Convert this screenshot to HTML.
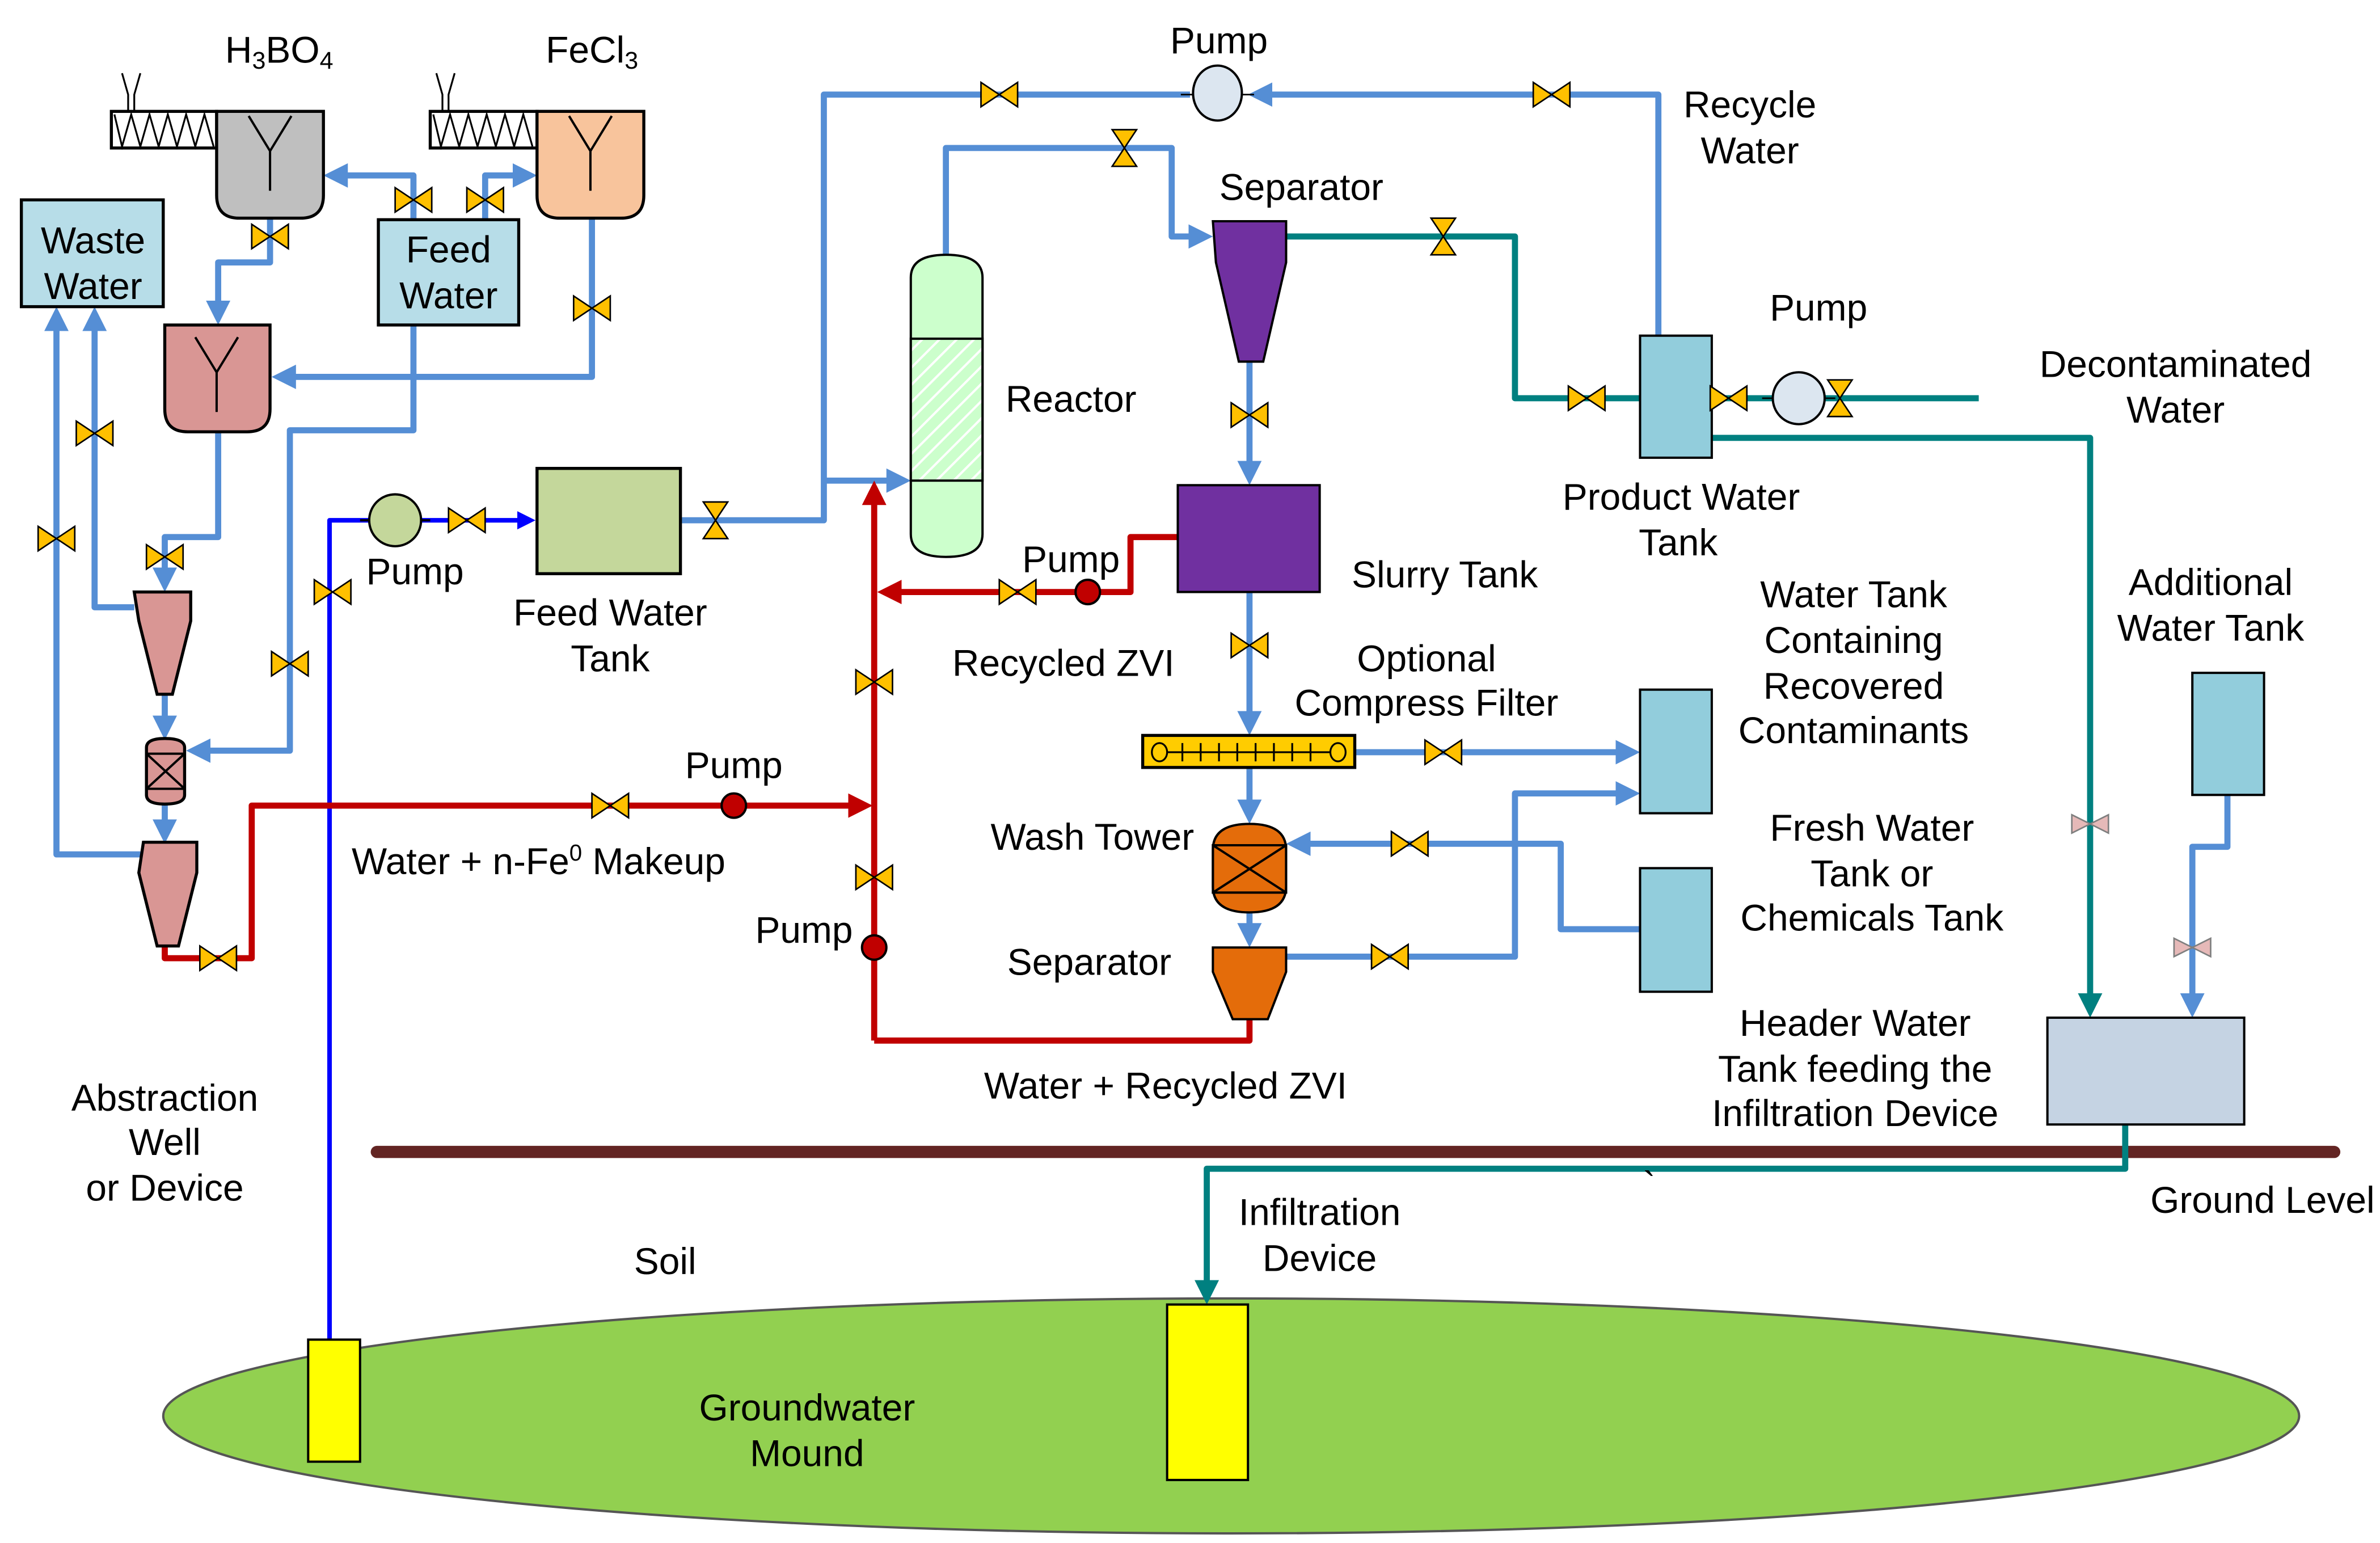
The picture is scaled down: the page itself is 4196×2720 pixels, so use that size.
<!DOCTYPE html>
<html><head><meta charset="utf-8"><style>
html,body{margin:0;padding:0;background:#fff;}
svg{display:block;}
text{font-family:"Liberation Sans",sans-serif;font-size:24.5px;fill:#000;text-anchor:middle;}
</style></head><body>
<svg width="4196" height="2720" viewBox="0 0 1560 1011.3" preserveAspectRatio="none" xmlns="http://www.w3.org/2000/svg">
<defs>
<marker id="ab" markerWidth="4" markerHeight="4" refX="3" refY="2" orient="auto" markerUnits="strokeWidth"><path d="M0,0 L4,2 L0,4 Z" fill="#558ed5"/></marker>
<marker id="ar" markerWidth="4" markerHeight="4" refX="3" refY="2" orient="auto" markerUnits="strokeWidth"><path d="M0,0 L4,2 L0,4 Z" fill="#c00000"/></marker>
<marker id="at" markerWidth="4" markerHeight="4" refX="3" refY="2" orient="auto" markerUnits="strokeWidth"><path d="M0,0 L4,2 L0,4 Z" fill="#008080"/></marker>
<marker id="ap" markerWidth="4" markerHeight="4" refX="3" refY="2" orient="auto" markerUnits="strokeWidth"><path d="M0,0 L4,2 L0,4 Z" fill="#0000ff"/></marker>
<g id="v"><path d="M-12,-8 L12,8 L12,-8 L-12,8 Z" fill="#ffc000" stroke="#000" stroke-width="1"/></g>
<g id="vv"><path d="M-8,-12 L8,12 L-8,12 L8,-12 Z" fill="#ffc000" stroke="#000" stroke-width="1"/></g>
<g id="pv"><path d="M-12,-6 L12,6 L12,-6 L-12,6 Z" fill="#e6b9b8" stroke="#7f7f7f" stroke-width="1"/></g>
<pattern id="hatch" width="8" height="8" patternUnits="userSpaceOnUse" patternTransform="rotate(45)"><rect width="8" height="8" fill="#ccffcc"/><line x1="0" y1="0" x2="0" y2="8" stroke="#fff" stroke-width="3"/></pattern>
</defs>

<ellipse cx="807" cy="928" rx="700" ry="77" fill="#92d050" stroke="#555" stroke-width="1.5"/>
<line x1="247" y1="755" x2="1530" y2="755" stroke="#632523" stroke-width="8" stroke-linecap="round"/>

<g fill="none" stroke-width="4" stroke-linejoin="round">
<g stroke="#558ed5">
<polyline points="271,144 271,115 216,115" marker-end="url(#ab)"/>
<polyline points="318,144 318,115 348,115" marker-end="url(#ab)"/>
<polyline points="177,143 177,172 143,172 143,209" marker-end="url(#ab)"/>
<polyline points="388,143 388,247 182,247" marker-end="url(#ab)"/>
<polyline points="271,213 271,282 190,282 190,492 126,492" marker-end="url(#ab)"/>
<polyline points="143,283 143,352 108,352 108,384" marker-end="url(#ab)"/>
<polyline points="88,398 62,398 62,205" marker-end="url(#ab)"/>
<polyline points="108,455 108,481" marker-end="url(#ab)"/>
<polyline points="108,527 108,549" marker-end="url(#ab)"/>
<polyline points="92,560 37,560 37,205" marker-end="url(#ab)"/>
<polyline points="446,341 540,341 540,62 780,62"/>
<polyline points="540,315 593,315" marker-end="url(#ab)"/>
<polyline points="1087,220 1087,62 822,62" marker-end="url(#ab)"/>
<polyline points="620,167 620,97 768,97 768,155 791,155" marker-end="url(#ab)"/>
<polyline points="819,237 819,314" marker-end="url(#ab)"/>
<polyline points="819,388 819,478" marker-end="url(#ab)"/>
<polyline points="888,493 1071,493" marker-end="url(#ab)"/>
<polyline points="819,503 819,536" marker-end="url(#ab)"/>
<polyline points="819,598 819,617" marker-end="url(#ab)"/>
<polyline points="843,627 993,627 993,520 1071,520" marker-end="url(#ab)"/>
<polyline points="1075,609 1023,609 1023,553 847,553" marker-end="url(#ab)"/>
<polyline points="1460,521 1460,555 1437,555 1437,663" marker-end="url(#ab)"/>
</g>
<polyline points="216,878 216,341 348,341" stroke="#0000ff" stroke-width="3" marker-end="url(#ap)"/>
<g stroke="#c00000">
<polyline points="108,620 108,628 165,628 165,528 568,528" marker-end="url(#ar)"/>
<polyline points="573,682 573,319" marker-end="url(#ar)"/>
<polyline points="772,352 741,352 741,388 579,388" marker-end="url(#ar)"/>
<polyline points="573,682 819,682 819,668"/>
</g>
<g stroke="#008080">
<polyline points="843,155 993,155 993,261 1075,261"/>
<polyline points="1297,261 1122,261"/>
<polyline points="1122,287 1370,287 1370,663" marker-end="url(#at)"/>
<polyline points="1393,737 1393,766 791,766 791,851" marker-end="url(#at)"/>
</g>
</g>

<g stroke="#000" stroke-width="2">
<rect x="73" y="73" width="69" height="24" fill="#fff"/>
<polyline points="75,75 80,96 86,75 92,96 98,75 104,96 110,75 116,96 122,75 128,96 134,75 140,96" fill="none" stroke-width="1.2"/>
<path d="M80,48 L84,62 L84,73 M92,48 L88,62 L88,73" fill="none" stroke-width="1.2"/>
<rect x="282" y="73" width="70" height="24" fill="#fff"/>
<polyline points="284,75 289,96 295,75 301,96 307,75 313,96 319,75 325,96 331,75 337,96 343,75 349,96" fill="none" stroke-width="1.2"/>
<path d="M286,48 L290,62 L290,73 M298,48 L294,62 L294,73" fill="none" stroke-width="1.2"/>
<path d="M142,73 H212 V128 Q212,143 197,143 H157 Q142,143 142,128 Z" fill="#bfbfbf"/>
<path d="M352,73 H422 V128 Q422,143 407,143 H367 Q352,143 352,128 Z" fill="#f8c49c"/>
<path d="M108,213 H177 V268 Q177,283 162,283 H123 Q108,283 108,268 Z" fill="#d99694"/>
<path d="M163,101 L177,124 L191,101 M177,124 V150" fill="none" stroke-width="1.5" transform="translate(0,-25)"/>
<path d="M373,101 L387,124 L401,101 M387,124 V150" fill="none" stroke-width="1.5" transform="translate(0,-25)"/>
<path d="M128,101 L142,124 L156,101 M142,124 V150" fill="none" stroke-width="1.5" transform="translate(0,120)"/>
<rect x="14" y="131" width="93" height="70" fill="#b7dde8"/>
<rect x="248" y="144" width="92" height="69" fill="#b7dde8"/>
<path d="M88,388 H125 V407 L113,455 H103 L91,407 Z" fill="#d99694"/>
<path d="M96,490 Q96,484 108,484 Q121,484 121,490 V521 Q121,527 108,527 Q96,527 96,521 Z" fill="#d99694"/>
<path d="M96,494 H121 V517 H96 Z M96,494 L121,517 M121,494 L96,517" fill="none" stroke-width="1.5"/>
<path d="M92,552 H127 V572 L115,620 H101 L89,572 Z" fill="#d99694" transform="translate(2,0)"/>
<rect x="352" y="307" width="94" height="69" fill="#c4d79b"/>
<path d="M597,182 Q597,167 620,167 Q644,167 644,182 V350 Q644,365 620,365 Q597,365 597,350 Z" fill="#ccffcc" stroke-width="1.5"/>
<rect x="597" y="222" width="47" height="93" fill="url(#hatch)" stroke-width="1.5"/>
<path d="M795,145 H843 V172 L828,237 H812 L797,172 Z" fill="#7030a0" stroke-width="1.5"/>
<rect x="772" y="318" width="93" height="70" fill="#7030a0" stroke-width="1.5"/>
<rect x="1075" y="220" width="47" height="80" fill="#92cddc" stroke-width="1.5"/>
<rect x="749" y="482" width="139" height="21" fill="#ffcc00" stroke-width="2"/>
<g stroke-width="1.2" fill="none"><ellipse cx="760" cy="493" rx="5" ry="6"/><ellipse cx="877" cy="493" rx="5" ry="6"/><line x1="765" y1="493" x2="872" y2="493"/>
<path d="M775,487 v12 M787,487 v12 M799,487 v12 M811,487 v12 M823,487 v12 M835,487 v12 M847,487 v12 M859,487 v12"/></g>
<path d="M795,557 Q795,540 819,540 Q843,540 843,557 V581 Q843,598 819,598 Q795,598 795,581 Z" fill="#e46c0a" stroke-width="1.5"/>
<path d="M795,554 H843 V585 H795 Z M795,554 L843,585 M843,554 L795,585" fill="none" stroke-width="1.5"/>
<path d="M795,621 H843 V637 L831,668 H808 L795,637 Z" fill="#e46c0a" stroke-width="1.5"/>
<rect x="1075" y="452" width="47" height="81" fill="#92cddc" stroke-width="1.5"/>
<rect x="1075" y="569" width="47" height="81" fill="#92cddc" stroke-width="1.5"/>
<rect x="1437" y="441" width="47" height="80" fill="#92cddc" stroke-width="1.5"/>
<rect x="1342" y="667" width="129" height="70" fill="#c5d3e3" stroke-width="1.5"/>
<rect x="202" y="878" width="34" height="80" fill="#ffff00" stroke-width="1.5"/>
<rect x="765" y="855" width="53" height="115" fill="#ffff00" stroke-width="1.5"/>
<line x1="236" y1="341" x2="282" y2="341" stroke-width="1.5"/>
<ellipse cx="259" cy="341" rx="17" ry="17" fill="#c4d79b" stroke-width="1.5"/>
<line x1="774" y1="62" x2="822" y2="62" stroke-width="1"/>
<ellipse cx="798" cy="61" rx="16" ry="18" fill="#dce6f0" stroke-width="1.5"/>
<line x1="1155" y1="261" x2="1203" y2="261" stroke-width="1"/>
<ellipse cx="1179" cy="261" rx="17" ry="17" fill="#dce6f0" stroke-width="1.5"/>
<circle cx="481" cy="528" r="8" fill="#c00000" stroke-width="1.5"/>
<circle cx="713" cy="388" r="8" fill="#c00000" stroke-width="1.5"/>
<circle cx="573" cy="621" r="8" fill="#c00000" stroke-width="1.5"/>
</g>

<use href="#v" x="271" y="131"/><use href="#v" x="318" y="131"/><use href="#v" x="177" y="155"/>
<use href="#v" x="388" y="202"/><use href="#v" x="62" y="284"/><use href="#v" x="37" y="353"/>
<use href="#v" x="108" y="365"/><use href="#v" x="190" y="435"/><use href="#v" x="218" y="388"/>
<use href="#v" x="306" y="341"/><use href="#vv" x="469" y="341"/><use href="#v" x="655" y="62"/>
<use href="#v" x="1017" y="62"/><use href="#vv" x="737" y="97"/><use href="#vv" x="946" y="155"/>
<use href="#v" x="1040" y="261"/><use href="#v" x="1133" y="261"/><use href="#vv" x="1206" y="261"/>
<use href="#v" x="819" y="272"/><use href="#v" x="667" y="388"/><use href="#v" x="573" y="447"/>
<use href="#v" x="573" y="575"/><use href="#v" x="143" y="628"/><use href="#v" x="400" y="528"/>
<use href="#v" x="819" y="423"/><use href="#v" x="946" y="493"/><use href="#v" x="924" y="553"/>
<use href="#v" x="911" y="627"/><use href="#pv" x="1370" y="540"/><use href="#pv" x="1437" y="621"/>

<text x="183" y="41">H<tspan font-size="16" dy="4">3</tspan><tspan dy="-4">BO</tspan><tspan font-size="16" dy="4">4</tspan></text>
<text x="388" y="41">FeCl<tspan font-size="16" dy="4">3</tspan></text>
<text x="61" y="166">Waste</text><text x="61" y="196">Water</text>
<text x="294" y="172">Feed</text><text x="294" y="202">Water</text>
<text x="272" y="383">Pump</text>
<text x="400" y="410">Feed Water</text><text x="400" y="440">Tank</text>
<text x="799" y="35">Pump</text>
<text x="1147" y="77">Recycle</text><text x="1147" y="107">Water</text>
<text x="853" y="131">Separator</text>
<text x="702" y="270">Reactor</text>
<text x="1192" y="210">Pump</text>
<text x="1426" y="247">Decontaminated</text><text x="1426" y="277">Water</text>
<text x="1102" y="334">Product Water</text><text x="1100" y="364">Tank</text>
<text x="702" y="375">Pump</text>
<text x="947" y="385">Slurry Tank</text>
<text x="1215" y="398">Water Tank</text><text x="1215" y="428">Containing</text><text x="1215" y="458">Recovered</text><text x="1215" y="487">Contaminants</text>
<text x="1449" y="390">Additional</text><text x="1449" y="420">Water Tank</text>
<text x="697" y="443">Recycled ZVI</text>
<text x="935" y="440">Optional</text><text x="935" y="469">Compress Filter</text>
<text x="481" y="510">Pump</text>
<text x="716" y="557">Wash Tower</text>
<text x="1227" y="551">Fresh Water</text><text x="1227" y="581">Tank or</text><text x="1227" y="610">Chemicals Tank</text>
<text x="353" y="573">Water + n-Fe<tspan font-size="15" dy="-9">0</tspan><tspan dy="9"> Makeup</tspan></text>
<text x="527" y="618">Pump</text>
<text x="714" y="639">Separator</text>
<text x="1216" y="679">Header Water</text><text x="1216" y="709">Tank feeding the</text><text x="1216" y="738">Infiltration Device</text>
<text x="764" y="720">Water + Recycled ZVI</text>
<text x="108" y="728">Abstraction</text><text x="108" y="757">Well</text><text x="108" y="787">or Device</text>
<text x="1483" y="795">Ground Level</text>
<text x="865" y="803">Infiltration</text><text x="865" y="833">Device</text>
<text x="436" y="835">Soil</text>
<text x="529" y="931">Groundwater</text><text x="529" y="961">Mound</text>
<text x="1081" y="785" font-size="12">`</text>
</svg>
</body></html>
